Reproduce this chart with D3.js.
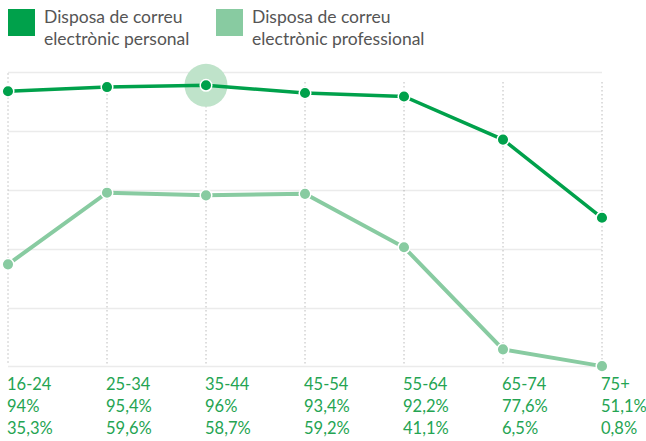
<!DOCTYPE html>
<meta charset="utf-8">
<head>
<style>
body { margin: 0; background: #fff; }
svg text { font-family: Lato, "Open Sans", sans-serif; }
.legend text { fill: #555; font-size: 17.5px; }
.labels text { fill: #24a452; font-size: 16.5px; }
</style>
</head>
<body>
<script src="https://d3js.org/d3.v7.min.js"></script>
<script>

var ageGroups = ["16-24", "25-34", "35-44", "45-54", "55-64", "65-74", "75+"];
var personal = [94, 95.4, 96, 93.4, 92.2, 77.6, 51.1];
var professional = [35.3, 59.6, 58.7, 59.2, 41.1, 6.5, 0.8];
var personalLabels = ["94%", "95,4%", "96%", "93,4%", "92,2%", "77,6%", "51,1%"];
var professionalLabels = ["35,3%", "59,6%", "58,7%", "59,2%", "41,1%", "6,5%", "0,8%"];
var seriesNames = [["Disposa de correu", "electrònic personal"], ["Disposa de correu", "electrònic professional"]];
var highlighted = 2;

var width = 646, height = 441;
var dark = "#00a14b", light = "#88cba1";

var svg = d3.select("body").append("svg")
    .attr("width", width)
    .attr("height", height);

var x = d3.scalePoint().domain(ageGroups).range([8, 602]);
var y = d3.scaleLinear().domain([0, 100]).range([368.5, 73.5]);

// horizontal grid
svg.append("g").selectAll("line")
    .data(y.ticks(5))
  .enter().append("line")
    .attr("x1", 8).attr("x2", 602)
    .attr("y1", function(d) { return y(d) - (d == 0 ? 2 : 1); })
    .attr("y2", function(d) { return y(d) - (d == 0 ? 2 : 1); })
    .attr("stroke", "#ebebeb")
    .attr("stroke-width", 1.5);

// dotted verticals
svg.append("g").selectAll("line")
    .data(ageGroups)
  .enter().append("line")
    .attr("x1", function(d) { return x(d); })
    .attr("x2", function(d) { return x(d); })
    .attr("y1", function(d, i) { return i == 0 ? y(100) : y(97); })
    .attr("y2", y(0) - 3)
    .attr("stroke", "#999")
    .attr("stroke-width", 1)
    .attr("stroke-dasharray", "1,3");

var line = d3.line()
    .x(function(d, i) { return x(ageGroups[i]); })
    .y(function(d) { return y(d); });

// highlight halo
svg.append("circle")
    .attr("cx", x(ageGroups[highlighted]))
    .attr("cy", y(personal[highlighted]))
    .attr("r", 21.5)
    .attr("fill", "#bfe3ca");

[[professional, light, 4], [personal, dark, 3.5]].forEach(function(s) {
  svg.append("path")
      .datum(s[0])
      .attr("d", line)
      .attr("fill", "none")
      .attr("stroke", s[1])
      .attr("stroke-width", s[2]);

  svg.append("g").selectAll("circle")
      .data(s[0])
    .enter().append("circle")
      .attr("cx", function(d, i) { return x(ageGroups[i]); })
      .attr("cy", function(d) { return y(d); })
      .attr("r", 5.8)
      .attr("fill", s[1])
      .attr("stroke", "#fff")
      .attr("stroke-width", 1.5);
});

// legend
var legend = svg.append("g").attr("class", "legend");
[[8, dark], [216, light]].forEach(function(l, i) {
  legend.append("rect")
      .attr("x", l[0]).attr("y", 9)
      .attr("width", 27).attr("height", 27)
      .attr("fill", l[1]);
  var t = legend.append("text").attr("x", l[0] + 36).attr("y", 23);
  seriesNames[i].forEach(function(s, j) {
    t.append("tspan").attr("x", l[0] + 36).attr("dy", j ? 22 : 0).text(s);
  });
});

// bottom labels
var labels = svg.append("g").attr("class", "labels");
[ageGroups, personalLabels, professionalLabels].forEach(function(row, r) {
  labels.selectAll(null)
      .data(row)
    .enter().append("text")
      .attr("x", function(d, i) { return x(ageGroups[i]) - 1; })
      .attr("y", 390 + r * 22)
      .text(function(d) { return d; });
});

</script>
